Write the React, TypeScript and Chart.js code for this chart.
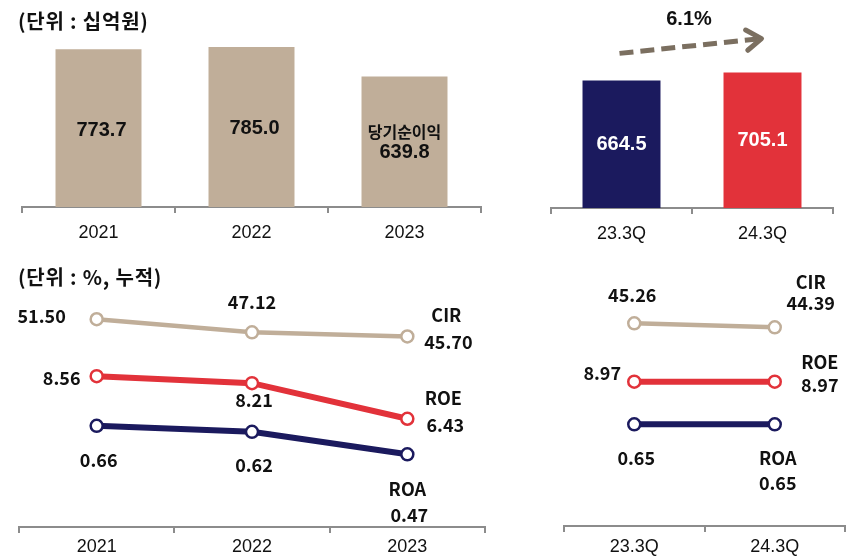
import React, { useEffect, useRef } from "react";
import { Chart, registerables } from "chart.js";

Chart.register(...registerables);

// ---------- data ----------
const yearCats = ["2021", "2022", "2023"];
const netIncomeYear = [773.7, 785.0, 639.8];
const quarterCats = ["23.3Q", "24.3Q"];
const netIncomeQuarter = [664.5, 705.1];
const seriesNames = ["CIR", "ROE", "ROA"];
const cirYear = [51.5, 47.12, 45.7];
const roeYear = [8.56, 8.21, 6.43];
const roaYear = [0.66, 0.62, 0.47];
const cirQuarter = [45.26, 44.39];
const roeQuarter = [8.97, 8.97];
const roaQuarter = [0.65, 0.65];
const unitAmount = "(단위 : 십억원)";
const unitRatio = "(단위 : %, 누적)";
const barSeriesName = "당기순이익";

// ---------- styles ----------
const TAN = "#C0AE99";
const RED = "#E2323A";
const NAVY = "#1B1A5E";
const AXIS = "#8C8C8C";
const ARROW = "#7B6F60";
const TEXT = "#111111";
const NUM_FONT = "'Liberation Sans', Arial, sans-serif";
const KR_FONT = "'Noto Sans CJK KR', 'Noto Sans', sans-serif";

// label offsets (px) relative to points: [series][point] -> [dx, dy]
const yearValueOffsets = [
  [[-55, -3], [0, -30], [41, 6]],
  [[-35, 2], [2, 17], [38, 6]],
  [[2, 34], [2, 33], [2, 61]],
];
const yearNameOffsets = [[39, -21], [36, -21], [0, 35]];
const quarterValueOffsets = [
  [[-2, -28], [36, -24]],
  [[-32, -9], [45, 3]],
  [[2, 34], [3, 59]],
];
const quarterNameOffsets = [[36, -45], [45, -20], [3, 34]];

function xAxis(height: number, padding: number) {
  return {
    type: "category",
    offset: true,
    grid: {
      display: true,
      offset: true,
      drawOnChartArea: false,
      drawTicks: true,
      tickLength: 6,
      color: AXIS,
      lineWidth: 2,
    },
    border: { display: true, color: AXIS, width: 2 },
    ticks: {
      color: TEXT,
      font: { family: NUM_FONT, size: 18 },
      padding,
      maxRotation: 0,
      autoSkip: false,
    },
    afterFit: (s: any) => {
      s.height = height;
    },
  };
}

const baseOptions = (padding: any) => ({
  responsive: false,
  animation: false,
  devicePixelRatio: 1,
  layout: { padding, autoPadding: false },
  plugins: { legend: { display: false }, tooltip: { enabled: false } },
});

function drawText(
  ctx: any,
  text: string,
  x: number,
  y: number,
  font: string,
  color = TEXT,
  align = "center",
  spacing = "0px"
) {
  ctx.save();
  ctx.font = font;
  ctx.fillStyle = color;
  ctx.textAlign = align;
  ctx.textBaseline = "middle";
  try {
    ctx.letterSpacing = spacing;
  } catch (e) {}
  ctx.fillText(text, x, y);
  ctx.restore();
}

function lineDataset(data: number[], color: string, axis: string, width: number) {
  return {
    data,
    yAxisID: axis,
    borderColor: color,
    borderWidth: width,
    pointRadius: 6,
    pointHoverRadius: 6,
    pointBorderWidth: 2.5,
    pointBorderColor: color,
    pointBackgroundColor: "#ffffff",
    tension: 0,
    fill: false,
  };
}

function lineLabelPlugin(valueOffsets: number[][][], nameOffsets: number[][], title?: string) {
  return {
    id: "lineLabels",
    afterDraw(chart: any) {
      const ctx = chart.ctx;
      const f = `bold 18px ${KR_FONT}`;
      chart.data.datasets.forEach((ds: any, si: number) => {
        const pts = chart.getDatasetMeta(si).data;
        pts.forEach((p: any, i: number) => {
          const [dx, dy] = valueOffsets[si][i];
          drawText(ctx, ds.data[i].toFixed(2), p.x + dx, p.y + dy, f);
        });
        const last = pts[pts.length - 1];
        const [nx, ny] = nameOffsets[si];
        drawText(ctx, seriesNames[si], last.x + nx, last.y + ny, f);
      });
      if (title) drawText(ctx, title, 18, 17.5, `bold 20px ${KR_FONT}`, TEXT, "left", "0.8px");
    },
  };
}

function makeYearBars() {
  return {
    type: "bar",
    data: {
      labels: yearCats,
      datasets: [
        { data: netIncomeYear, backgroundColor: TAN, barPercentage: 0.562, categoryPercentage: 1 },
      ],
    },
    options: {
      ...baseOptions({ left: 22, right: 59, top: 0, bottom: 0 }),
      scales: { x: xAxis(53, 9), y: { display: false, min: 0, max: 1015 } },
    },
    plugins: [
      {
        id: "barLabels",
        afterDraw(chart: any) {
          const ctx = chart.ctx;
          const els = chart.getDatasetMeta(0).data;
          els.forEach((el: any, i: number) => {
            const mid = (el.y + el.base) / 2;
            const txt = netIncomeYear[i].toFixed(1);
            if (i === els.length - 1) {
              drawText(ctx, barSeriesName, el.x, mid - 10, `bold 16px ${KR_FONT}`);
              drawText(ctx, txt, el.x, mid + 11, `bold 20px ${NUM_FONT}`);
            } else {
              drawText(ctx, txt, el.x + 3, mid + 2, `bold 20px ${NUM_FONT}`);
            }
          });
          drawText(ctx, unitAmount, 18, 21, `bold 20px ${KR_FONT}`, TEXT, "left", "0.8px");
        },
      },
    ],
  };
}

function makeQuarterBars() {
  return {
    type: "bar",
    data: {
      labels: quarterCats,
      datasets: [
        {
          data: netIncomeQuarter,
          backgroundColor: [NAVY, RED],
          barPercentage: 0.553,
          categoryPercentage: 1,
        },
      ],
    },
    options: {
      ...baseOptions({ left: 11, right: 21, top: 0, bottom: 0 }),
      scales: { x: xAxis(52, 9), y: { display: false, min: 0, max: 1083 } },
    },
    plugins: [
      {
        id: "barLabels",
        afterDraw(chart: any) {
          const ctx = chart.ctx;
          const els = chart.getDatasetMeta(0).data;
          els.forEach((el: any, i: number) => {
            const mid = (el.y + el.base) / 2;
            drawText(ctx, netIncomeQuarter[i].toFixed(1), el.x, mid, `bold 20px ${NUM_FONT}`, "#ffffff");
          });
          const a = els[0];
          const b = els[1];
          const x1 = a.x - 2, y1 = a.y - 27;
          const x2 = b.x - 1, y2 = b.y - 34;
          const ang = Math.atan2(y2 - y1, x2 - x1);
          ctx.save();
          ctx.strokeStyle = ARROW;
          ctx.lineWidth = 5;
          ctx.setLineDash([14, 7]);
          ctx.beginPath();
          ctx.moveTo(x1, y1);
          ctx.lineTo(x2 - 4 * Math.cos(ang), y2 - 4 * Math.sin(ang));
          ctx.stroke();
          ctx.setLineDash([]);
          ctx.lineCap = "round";
          ctx.lineJoin = "round";
          const L = 18;
          ctx.beginPath();
          ctx.moveTo(x2 - L * Math.cos(ang - 0.6), y2 - L * Math.sin(ang - 0.6));
          ctx.lineTo(x2, y2);
          ctx.lineTo(x2 - L * Math.cos(ang + 0.6), y2 - L * Math.sin(ang + 0.6));
          ctx.stroke();
          ctx.restore();
          const growth = ((netIncomeQuarter[1] / netIncomeQuarter[0] - 1) * 100).toFixed(1) + "%";
          drawText(ctx, growth, (a.x + b.x) / 2 - 3, b.y - 53, `bold 20px ${NUM_FONT}`);
        },
      },
    ],
  };
}

function makeYearLines() {
  return {
    type: "line",
    data: {
      labels: yearCats,
      datasets: [
        lineDataset(cirYear, TAN, "yC", 4.5),
        lineDataset(roeYear, RED, "yE", 6),
        lineDataset(roaYear, NAVY, "yA", 6),
      ],
    },
    options: {
      ...baseOptions({ left: 19, right: 55, top: 0, bottom: 0 }),
      scales: {
        x: xAxis(30, 3),
        yC: { display: false, min: -18.3, max: 71.4 },
        yE: { display: false, min: 1.017, max: 14.37 },
        yA: { display: false, min: -0.0145, max: 1.765 },
      },
    },
    plugins: [lineLabelPlugin(yearValueOffsets, yearNameOffsets, unitRatio)],
  };
}

function makeQuarterLines() {
  return {
    type: "line",
    data: {
      labels: quarterCats,
      datasets: [
        lineDataset(cirQuarter, TAN, "yC", 4.5),
        lineDataset(roeQuarter, RED, "yE", 6),
        lineDataset(roaQuarter, NAVY, "yA", 6),
      ],
    },
    options: {
      ...baseOptions({ left: 24, right: 9, top: 0, bottom: 0 }),
      scales: {
        x: xAxis(31, 4),
        yC: { display: false, min: 1.19, max: 59.02 },
        yE: { display: false, min: 1.755, max: 15.055 },
        yA: { display: false, min: -0.028, max: 1.745 },
      },
    },
    plugins: [lineLabelPlugin(quarterValueOffsets, quarterNameOffsets)],
  };
}

function ChartBox({ left, top, width, height, make }: any) {
  const ref = useRef<HTMLCanvasElement | null>(null);
  useEffect(() => {
    const chart = new Chart(ref.current as any, make() as any);
    return () => chart.destroy();
  }, []);
  return (
    <canvas
      ref={ref}
      width={width}
      height={height}
      style={{ position: "absolute", left, top, width, height, display: "block" }}
    />
  );
}

export default function App() {
  return (
    <div
      style={{
        position: "fixed",
        left: 0,
        top: 0,
        width: 854,
        height: 557,
        background: "#ffffff",
        overflow: "hidden",
      }}
    >
      <ChartBox left={0} top={0} width={540} height={260} make={makeYearBars} />
      <ChartBox left={540} top={0} width={314} height={260} make={makeQuarterBars} />
      <ChartBox left={0} top={260} width={540} height={297} make={makeYearLines} />
      <ChartBox left={540} top={260} width={314} height={297} make={makeQuarterLines} />
    </div>
  );
}
